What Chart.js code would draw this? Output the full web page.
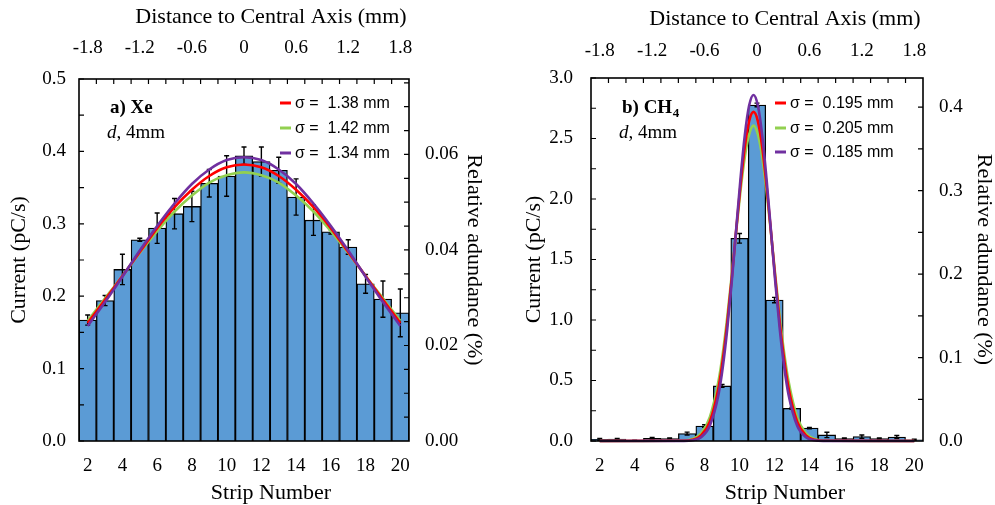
<!DOCTYPE html>
<html><head><meta charset="utf-8">
<script src="https://cdn.jsdelivr.net/npm/chart.js@4"></script>
<style>
html,body{margin:0;padding:0;background:#fff;}
#wrap{position:relative;width:995px;height:505px;overflow:hidden;}
#c1{position:absolute;left:0;top:0;}
#c2{position:absolute;left:497px;top:0;}
</style></head><body>
<div id="wrap"><canvas id="c1" width="497" height="505"></canvas><canvas id="c2" width="498" height="505"></canvas></div>
<script>
// ---------- data ----------
const strips = [2,3,4,5,6,7,8,9,10,11,12,13,14,15,16,17,18,19,20];
const stripTicks = [2,4,6,8,10,12,14,16,18,20];
const distTicks = [-1.8,-1.2,-0.6,0,0.6,1.2,1.8];
const distMinorTicks = [-1.7,-1.5,-1.3,-1.1,-0.9,-0.7,-0.5,-0.3,-0.1,0.1,0.3,0.5,0.7,0.9,1.1,1.3,1.5,1.7];

// panel a) Xe
const xeCurrent = [0.167,0.194,0.237,0.278,0.294,0.314,0.324,0.356,0.366,0.394,0.386,0.374,0.337,0.305,0.289,0.268,0.217,0.196,0.177];
const xeError   = [0.007,0.007,0.021,0.002,0.021,0.021,0.021,0.019,0.028,0.012,0.020,0.018,0.025,0.021,0.003,0.010,0.013,0.025,0.033];
const xeFitRed    = [0.163,0.195,0.228,0.261,0.294,0.323,0.347,0.366,0.378,0.382,0.378,0.366,0.347,0.323,0.294,0.261,0.228,0.195,0.163];
const xeFitGreen  = [0.166,0.197,0.228,0.260,0.290,0.317,0.339,0.357,0.367,0.371,0.367,0.357,0.339,0.317,0.290,0.260,0.228,0.197,0.166];
const xeFitPurple = [0.159,0.192,0.227,0.263,0.297,0.328,0.355,0.375,0.388,0.392,0.388,0.375,0.355,0.328,0.297,0.263,0.227,0.192,0.159];
const xeLegend = ['σ =  1.38 mm','σ =  1.42 mm','σ =  1.34 mm'];
const xeYTicks = [0,0.1,0.2,0.3,0.4,0.5];
const xeYMinor = [0,0.05,0.1,0.15,0.2,0.25,0.3,0.35,0.4,0.45,0.5];
const xeY2Ticks = [0,0.02,0.04,0.06];
const xeY2Minor = [0.005,0.01,0.015,0.02,0.025,0.03,0.035,0.04,0.045,0.05,0.055,0.06,0.065,0.07,0.075];

// panel b) CH4
const ch4Current = [0.014,0.016,0.004,0.022,0.019,0.061,0.124,0.455,1.675,2.777,1.165,0.270,0.107,0.050,0.020,0.036,0.020,0.033,0.010];
const ch4Error   = [0.008,0.006,0.002,0.008,0.006,0.012,0.010,0.012,0.040,0.015,0.022,0.008,0.006,0.022,0.006,0.014,0.006,0.012,0.004];
const ch4FitX      = [2,6.8,7.3,7.8,8.3,8.8,9.05,9.3,9.55,9.8,10.05,10.3,10.55,10.8,11.05,11.3,11.55,11.8,12.05,12.3,12.55,12.8,13.3,13.8,14.3,14.8,20];
const ch4FitRed    = [0,0.002,0.010,0.046,0.160,0.443,0.678,0.980,1.339,1.728,2.107,2.428,2.644,2.720,2.644,2.428,2.107,1.728,1.339,0.980,0.678,0.443,0.160,0.046,0.010,0.002,0];
const ch4FitGreen  = [0,0.004,0.016,0.063,0.197,0.498,0.733,1.026,1.363,1.720,2.061,2.345,2.534,2.606,2.534,2.345,2.061,1.720,1.363,1.026,0.733,0.498,0.197,0.063,0.016,0.004,0];
const ch4FitPurple = [0,0.001,0.006,0.032,0.126,0.387,0.619,0.929,1.309,1.735,2.159,2.524,2.772,2.860,2.772,2.524,2.159,1.735,1.309,0.929,0.619,0.387,0.126,0.032,0.006,0.001,0];
const ch4Legend = ['σ =  0.195 mm','σ =  0.205 mm','σ =  0.185 mm'];
const ch4YTicks = [0,0.5,1.0,1.5,2.0,2.5,3.0];
const ch4YMinor = [0,0.25,0.5,0.75,1,1.25,1.5,1.75,2,2.25,2.5,2.75,3];
const ch4Y2Ticks = [0,0.1,0.2,0.3,0.4];
const ch4Y2Minor = [0.05,0.1,0.15,0.2,0.25,0.3,0.35,0.4];

// ---------- styling ----------
const BAR = '#5B9BD5', RED = '#FF0000', GREEN = '#92D050', PURPLE = '#7030A0';
const SERIF = '"Liberation Serif", "Times New Roman", serif';
const SANS = '"Liberation Sans", Arial, sans-serif';

function pts(xs, ys){ return xs.map((x,i)=>({x:x, y:ys[i]})); }

function decor(cfg){
  return {
    id:'decor',
    afterDatasetDraw(chart, args){
      if (args.meta.type !== 'bar') return;
      const {ctx} = chart; const x = chart.scales.x, y = chart.scales.y;
      ctx.save(); ctx.strokeStyle='#000'; ctx.lineWidth=1.4;
      cfg.values.forEach((v,i)=>{
        const px = x.getPixelForValue(strips[i]);
        const y1 = y.getPixelForValue(v - cfg.errors[i]);
        const y2 = y.getPixelForValue(v + cfg.errors[i]);
        ctx.beginPath();
        ctx.moveTo(px,y1); ctx.lineTo(px,y2);
        ctx.moveTo(px-2.5,y1); ctx.lineTo(px+2.5,y1);
        ctx.moveTo(px-2.5,y2); ctx.lineTo(px+2.5,y2);
        ctx.stroke();
      });
      ctx.restore();
    },
    afterDraw(chart){
      const {ctx, chartArea:a} = chart;
      const s = chart.scales;
      ctx.save();
      // frame
      ctx.strokeStyle='#000'; ctx.lineWidth=1.6;
      ctx.strokeRect(a.left, a.top, a.right-a.left, a.bottom-a.top);
      // inward ticks
      ctx.lineWidth=1.2; ctx.beginPath();
      cfg.yMinor.forEach(v=>{ const p=s.y.getPixelForValue(v); ctx.moveTo(a.left,p); ctx.lineTo(a.left+5,p); });
      cfg.y2Minor.forEach(v=>{ const p=s.y2.getPixelForValue(v); ctx.moveTo(a.right,p); ctx.lineTo(a.right-5,p); });
      distMinorTicks.forEach(v=>{ const p=s.x2.getPixelForValue(v); ctx.moveTo(p,a.top); ctx.lineTo(p,a.top+5); });
      ctx.stroke();
      // horizontal axis titles
      ctx.fillStyle='#000'; ctx.textAlign='center'; ctx.textBaseline='middle';
      ctx.font = '22px ' + SERIF;
      const cx = (a.left+a.right)/2 + cfg.titleShift;
      ctx.fillText('Distance to Central Axis (mm)', cx, cfg.topTitleY);
      ctx.fillText('Strip Number', cx, 493);
      // legend
      ctx.textAlign='left'; ctx.font = '16px ' + SANS;
      const cols=[RED,GREEN,PURPLE];
      cfg.legend.forEach((t,i)=>{
        const ry = cfg.legY[i];
        ctx.strokeStyle=cols[i]; ctx.lineWidth=3;
        ctx.beginPath(); ctx.moveTo(cfg.legX, ry); ctx.lineTo(cfg.legX+11, ry); ctx.stroke();
        ctx.fillText(t, cfg.legX+15, ry+1);
      });
      // annotation
      ctx.textBaseline='alphabetic';
      ctx.font = 'bold 19px ' + SERIF;
      ctx.fillText(cfg.label, cfg.annX, 113);
      if (cfg.sub){
        const w = ctx.measureText(cfg.label).width;
        ctx.font = 'bold 13px ' + SERIF;
        ctx.fillText(cfg.sub, cfg.annX + w + 0.5, 117);
      }
      ctx.font = 'italic 19px ' + SERIF;
      ctx.fillText('d', cfg.annX-3, 138);
      const wd = ctx.measureText('d').width;
      ctx.font = '19px ' + SERIF;
      ctx.fillText(', 4mm', cfg.annX-3+wd, 138);
      ctx.restore();
    }
  };
}

function makeChart(el, o){
  const tickFont = {family: SERIF, size: 19};
  const titleFont = {family: SERIF, size: 22, lineHeight: 1};
  const noGrid = {display:false, drawTicks:false, drawOnChartArea:false};
  return new Chart(el, {
    type:'bar',
    data:{ datasets:[
      {type:'line', data: pts(o.fitX, o.purple), borderColor: PURPLE, borderWidth:2.6, pointRadius:0, cubicInterpolationMode:'monotone', order:0, clip:false},
      {type:'line', data: pts(o.fitX, o.red), borderColor: RED, borderWidth:2.6, pointRadius:0, cubicInterpolationMode:'monotone', order:1, clip:false},
      {type:'line', data: pts(o.fitX, o.green), borderColor: GREEN, borderWidth:2.6, pointRadius:0, cubicInterpolationMode:'monotone', order:2, clip:false},
      {type:'bar', data: pts(strips, o.values), backgroundColor: BAR, borderColor:'#000', borderWidth:1.3, barPercentage:1, categoryPercentage:1, order:3}
    ]},
    options:{
      responsive:false, animation:false, events:[],
      layout:{padding:0},
      plugins:{legend:{display:false}, tooltip:{enabled:false}},
      scales:{
        x:{type:'linear', position:'bottom', min:1.5, max:20.5, offset:false,
           grid:{...noGrid, offset:false}, border:{display:false},
           afterBuildTicks: sc => { sc.ticks = stripTicks.map(v=>({value:v})); },
           ticks:{font:tickFont, color:'#000', padding:14, maxRotation:0, autoSkip:false, callback:v=>String(v)},
           afterFit: sc => { sc.height = 64; }},
        x2:{type:'linear', position:'top', min:-1.9, max:1.9, offset:false,
           grid:{...noGrid, offset:false}, border:{display:false},
           afterBuildTicks: sc => { sc.ticks = distTicks.map(v=>({value:v})); },
           ticks:{font:tickFont, color:'#000', padding:o.topPad, maxRotation:0, autoSkip:false, callback:v=>String(v)},
           afterFit: sc => { sc.height = o.topH; }},
        y:{type:'linear', position:'left', min:0, max:o.yMax,
           grid:noGrid, border:{display:false},
           afterBuildTicks: sc => { sc.ticks = o.yTicks.map(v=>({value:v})); },
           ticks:{font:tickFont, color:'#000', padding:o.yPad, callback:v=>Number(v).toFixed(1)},
           title:{display:true, text:'Current (pC/s)', font:titleFont, color:'#000', padding:{top:o.yTitlePad, bottom:0}},
           afterFit: sc => { sc.width = o.yW; }},
        y2:{type:'linear', position:'right', min:0, max:o.y2Max,
           grid:noGrid, border:{display:false},
           afterBuildTicks: sc => { sc.ticks = o.y2Ticks.map(v=>({value:v})); },
           ticks:{font:tickFont, color:'#000', padding:16, callback:v=>Number(v).toFixed(o.y2Dec)},
           title:{display:true, text:'Relative adundance (%)', font:titleFont, color:'#000', padding:{top:o.y2TitlePad, bottom:0}},
           afterFit: sc => { sc.width = o.y2W; }}
      }
    },
    plugins:[decor(o.decor)]
  });
}

makeChart(document.getElementById('c1'), {
  values: xeCurrent, fitX: strips, red: xeFitRed, green: xeFitGreen, purple: xeFitPurple,
  yMax:0.5, yTicks: xeYTicks, y2Max:0.0758, y2Ticks: xeY2Ticks, y2Dec:2,
  yW:79, y2W:88, topH:79, topPad:20, yPad:13, yTitlePad:8, y2TitlePad:12,
  decor:{values: xeCurrent, errors: xeError, yMinor: xeYMinor, y2Minor: xeY2Minor,
         legend: xeLegend, legX:280, legY:[103,128,153], label:'a) Xe', sub:null, annX:110,
         titleShift:27, topTitleY:17.5}
});
makeChart(document.getElementById('c2'), {
  values: ch4Current, fitX: ch4FitX, red: ch4FitRed, green: ch4FitGreen, purple: ch4FitPurple,
  yMax:3.0, yTicks: ch4YTicks, y2Max:0.435, y2Ticks: ch4Y2Ticks, y2Dec:1,
  yW:94, y2W:72, topH:78, topPad:16, yPad:18, yTitlePad:26, y2TitlePad:0,
  decor:{values: ch4Current, errors: ch4Error, yMinor: ch4YMinor, y2Minor: ch4Y2Minor,
         legend: ch4Legend, legX:278, legY:[103,128,152], label:'b) CH', sub:'4', annX:125,
         titleShift:28, topTitleY:19}
});
</script>
</body></html>
